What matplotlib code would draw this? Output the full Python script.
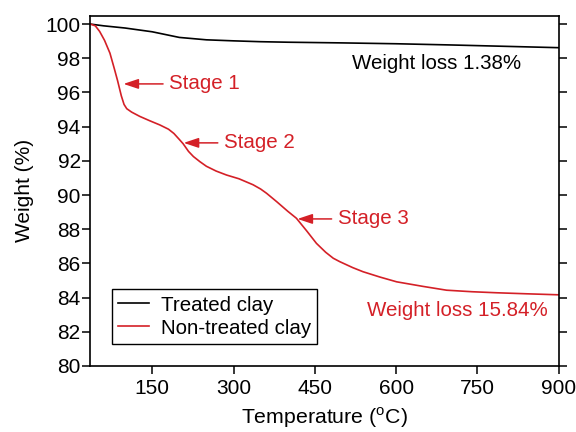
import matplotlib
matplotlib.use("Agg")
import matplotlib.pyplot as plt

plt.rcParams['font.family'] = ['Liberation Sans', 'DejaVu Sans']
plt.rcParams['mathtext.fontset'] = 'custom'
plt.rcParams['mathtext.rm'] = 'Liberation Sans'

RED = '#d42027'

# TGA curves (temperature in C, weight in %)
temp_treated = [36, 60, 100, 150, 200, 250, 300, 350, 400, 450, 500, 600, 700, 800, 900]
weight_treated = [100.0, 99.9, 99.77, 99.55, 99.22, 99.08, 99.02, 98.97, 98.94, 98.92, 98.9, 98.85, 98.78, 98.7, 98.62]

temp_raw = [36, 45, 53, 62, 72, 80, 86, 93, 98, 103, 112, 127, 145, 164, 180, 190, 200,
            207, 217, 226, 238, 250, 268, 287, 310, 336, 350, 361, 380, 400, 416, 435,
            453, 470, 484, 496, 520, 539, 570, 601, 650, 693, 740, 785, 840, 900]
weight_raw = [100.0, 99.9, 99.57, 99.05, 98.3, 97.4, 96.7, 95.8, 95.3, 95.05, 94.85, 94.6,
              94.35, 94.1, 93.85, 93.6, 93.25, 93.0, 92.55, 92.25, 91.95, 91.68, 91.4,
              91.17, 90.95, 90.6, 90.35, 90.1, 89.6, 89.05, 88.64, 87.9, 87.17, 86.65,
              86.3, 86.1, 85.75, 85.51, 85.2, 84.92, 84.65, 84.43, 84.34, 84.28, 84.22, 84.16]

# stage arrows: (label, tip T, tip W, tail T)
stages = [('Stage 1', 97, 96.5, 170),
          ('Stage 2', 208, 93.05, 271),
          ('Stage 3', 418, 88.6, 481)]

fig = plt.figure(figsize=(5.76, 4.32), dpi=100)
ax = fig.add_axes([0.157, 0.153, 0.813, 0.811])

ax.plot(temp_treated, weight_treated, color='black', lw=1.2, label='Treated clay')
ax.plot(temp_raw, weight_raw, color=RED, lw=1.2, label='Non-treated clay')

for label, tx, ty, tail in stages:
    ax.annotate('', xy=(tx, ty), xytext=(tail, ty),
                arrowprops=dict(arrowstyle='-|>,head_length=0.6,head_width=0.2',
                                color=RED, lw=1.1, shrinkA=0, shrinkB=0,
                                mutation_scale=15))
    ax.text(tail + 11, ty, label, color=RED, fontsize=14.8, va='center', ha='left')

ax.text(518, 97.7, 'Weight loss 1.38%', color='black', fontsize=14.8, va='center')
ax.text(546, 83.26, 'Weight loss 15.84%', color=RED, fontsize=14.8, va='center')

ax.set_xlim(36, 900)
ax.set_ylim(80, 100.5)
ax.set_xticks([150, 300, 450, 600, 750, 900])
ax.set_yticks(range(80, 101, 2))
ax.tick_params(axis='both', labelsize=15, length=5.5, width=1.1, direction='out')
ax.tick_params(axis='x', pad=4)
ax.tick_params(axis='y', right=True, pad=1.5)
for s in ax.spines.values():
    s.set_linewidth(1.2)

ax.set_xlabel(r'Temperature ($^{\rm o}$C)', fontsize=15.3, labelpad=5)
ax.set_ylabel('Weight (%)', fontsize=15, labelpad=8)

leg = ax.legend(loc='lower left', bbox_to_anchor=(0.045, 0.063), borderaxespad=0,
                fontsize=14.8, handlelength=1.5, fancybox=False, framealpha=1,
                edgecolor='black', borderpad=0.3, labelspacing=0.2, handletextpad=0.6)
leg.get_frame().set_linewidth(1.0)

fig.savefig('out.png', dpi=100)
